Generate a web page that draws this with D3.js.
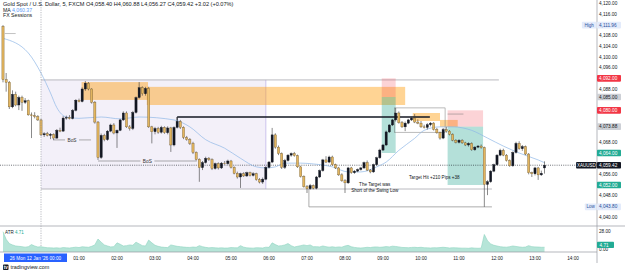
<!DOCTYPE html>
<html>
<head>
<meta charset="utf-8">
<script src="https://cdnjs.cloudflare.com/ajax/libs/d3/7.8.5/d3.min.js"></script>
<style>
body{margin:0;background:#fff;}
svg{display:block;font-family:"Liberation Sans",Arial,sans-serif;}
</style>
</head>
<body>
<div id="canvas"></div>
<script>
// 5 minute bars, first bar Sun 23:00
var firstBar = new Date(2026, 0, 11, 23, 0);

// [open, high, low, close]
var ohlc = [
[4111.5,4111.96,4090.5,4091.5],[4091.5,4094,4087,4090.5],[4090.5,4091,4080.5,4081.3],[4081.3,4087.5,4080.8,4086],
[4086,4087,4081.5,4082],[4082,4085.5,4080.1,4084.8],[4084.8,4085.5,4079.8,4083],[4083,4084.6,4082.4,4083.6],
[4083.6,4084,4078,4078.3],[4078.3,4079.2,4069.6,4078],[4078,4079.3,4077,4077.6],[4077.6,4078.2,4076,4076.4],
[4076.4,4076.8,4070.3,4070.8],[4070.8,4071.8,4070,4071.2],[4071.2,4071.9,4070.2,4070.6],[4070.6,4071.5,4069.2,4071],
[4071,4071.4,4068.9,4069.6],[4069.6,4073,4069.3,4072.5],[4072.5,4073.5,4071.8,4072.2],[4072.2,4077.8,4072,4077.1],
[4077.1,4078,4076.5,4077.3],[4077.3,4078.2,4076.6,4076.9],[4076.9,4080.5,4076.6,4080],[4080,4084.2,4079.6,4083.8],
[4083.8,4084.4,4083,4083.3],[4083.3,4088.6,4083,4088],[4088,4091,4087.3,4090.2],[4090.2,4090.6,4087.5,4088],
[4088,4088.3,4082.5,4083],[4083,4083.5,4075,4075.6],[4075.6,4076,4061.4,4062.3],[4062.3,4071.3,4061.8,4070.6],
[4070.6,4071.2,4068.4,4069],[4069,4072.6,4068.6,4072.2],[4072.2,4075,4071.8,4074.5],[4074.5,4075.2,4071,4071.5],
[4071.5,4072.8,4065.9,4072.5],[4072.5,4076.8,4072.2,4076.4],[4076.4,4079.6,4076,4079],[4079,4079.6,4073.4,4073.8],
[4073.8,4074.5,4072.4,4073.2],[4073.2,4079.8,4072.6,4079.2],[4079.2,4085.2,4078.8,4084.8],[4084.8,4090.6,4084.4,4088.5],
[4088.5,4089,4085.5,4086.2],[4086.2,4088.8,4085.5,4088.2],[4088.2,4088.8,4073.4,4073.8],[4073.8,4074.2,4067.6,4072],
[4072,4073.8,4071,4073.2],[4073.2,4073.8,4071.2,4071.8],[4071.8,4074.2,4071.3,4073.6],[4073.6,4074,4071.2,4071.6],
[4071.6,4074,4071,4073.4],[4073.4,4073.8,4064.4,4067],[4067,4074,4066.5,4073.6],[4073.6,4077.5,4073.2,4075.8],
[4075.8,4076.4,4073,4073.6],[4073.6,4074,4069.2,4069.8],[4069.8,4070.4,4068.6,4069],[4069,4069.6,4067,4067.6],
[4067.6,4068.2,4063.6,4064.2],[4064.2,4064.6,4061.2,4061.6],[4061.6,4062,4053.2,4058.5],[4058.5,4061,4057.6,4060.4],
[4060.4,4062.6,4060,4062],[4062,4062.5,4061,4061.5],[4061.5,4062,4057.6,4058.2],[4058.2,4060.4,4057.8,4060],
[4060,4060.5,4057.8,4058.4],[4058.4,4060.6,4058,4060.2],[4060.2,4061,4059.6,4060],[4060,4061.5,4059.6,4061],
[4061,4061.4,4058.2,4058.6],[4058.6,4059,4056,4056.4],[4056.4,4057,4054.4,4055],[4055,4056.6,4050.9,4056.2],
[4056.2,4056.8,4055,4055.4],[4055.4,4057,4055,4056.6],[4056.6,4057,4055.2,4055.6],[4055.6,4056.8,4055.2,4056.2],
[4056.2,4056.6,4053.6,4054],[4054,4054.6,4052.6,4053.1],[4053.1,4054.8,4052.4,4054.2],[4054.2,4059,4053.8,4058.6],
[4058.6,4061,4058.2,4060.6],[4060.6,4073.4,4060.2,4070.8],[4070.8,4071.4,4065.6,4066.2],[4066.2,4066.8,4063.2,4063.8],
[4063.8,4064.2,4058,4058.6],[4058.6,4061.8,4058,4061.2],[4061.2,4063.6,4060.8,4063.2],[4063.2,4064.2,4062.6,4063.8],
[4063.8,4064.4,4062.6,4063],[4063,4063.4,4058.4,4058.8],[4058.8,4059.2,4054.8,4055.2],[4055.2,4055.6,4051,4051.4],
[4051.4,4052,4049,4050.6],[4050.6,4052.4,4050.2,4051.8],[4051.8,4052.2,4050.4,4050.8],[4050.8,4055.4,4050.4,4055],
[4055,4057.8,4054.6,4057.4],[4057.4,4061.8,4057,4061.4],[4061.4,4062.8,4060.2,4060.6],[4060.6,4063,4060.2,4062.5],
[4062.5,4063,4059.2,4059.6],[4059.6,4060,4058,4058.4],[4058.4,4058.8,4055.4,4055.8],[4055.8,4056.4,4053.2,4053.6],
[4053.6,4054.2,4049,4052.8],[4052.8,4058.8,4052.4,4058.4],[4058.4,4058.8,4056.2,4056.6],[4056.6,4057.6,4056.2,4057.2],
[4057.2,4058.2,4056.8,4057.8],[4057.8,4058.8,4057.4,4058.4],[4058.4,4060.8,4058,4060.4],[4060.4,4061.2,4057.2,4057.6],
[4057.6,4058,4056.4,4056.9],[4056.9,4060,4056.6,4059.6],[4059.6,4062.6,4059.2,4062.2],[4062.2,4065.6,4061.8,4065.1],
[4065.1,4067.4,4064.8,4067],[4067,4072.4,4066.6,4071.9],[4071.9,4074.8,4071.5,4074.5],[4074.5,4076.8,4074.1,4076.4],
[4076.4,4080.9,4075.8,4079],[4079,4079.6,4075,4075.4],[4075.4,4076,4073.4,4073.8],[4073.8,4075.8,4072.2,4075.2],
[4075.2,4076.8,4074.8,4076.4],[4076.4,4077.6,4076,4077.1],[4077.1,4078.6,4075.2,4075.6],[4075.6,4076.6,4074.8,4075.2],
[4075.2,4076,4073.4,4073.8],[4073.8,4074.6,4073.2,4073.6],[4073.6,4075.2,4072.8,4074.6],[4074.6,4075.6,4074,4075.2],
[4075.2,4075.6,4072.4,4072.8],[4072.8,4073.4,4071.2,4071.6],[4071.6,4072,4069,4069.6],[4069.6,4073.4,4069.2,4072.8],
[4072.8,4073.8,4071.6,4072.2],[4072.2,4072.6,4070.6,4071],[4071,4071.4,4068.4,4068.8],[4068.8,4069.2,4067.6,4068],
[4068,4069.2,4067.6,4068.8],[4068.8,4069.2,4067.4,4067.8],[4067.8,4068.2,4066.6,4067],[4067,4068,4066.4,4067.6],
[4067.6,4068,4064.8,4065.2],[4065.2,4066.6,4064.8,4066.2],[4066.2,4067,4065.8,4066.6],[4066.6,4067.2,4065.6,4066],
[4066,4066.4,4043.8,4052.2],[4052.2,4053.8,4048.2,4053.2],[4053.2,4057.6,4052.8,4057.2],[4057.2,4060,4056.8,4059.6],
[4059.6,4063.6,4059.2,4063.2],[4063.2,4065.6,4062.8,4065],[4065,4065.6,4062.8,4063.2],[4063.2,4063.6,4060.8,4061.2],
[4061.2,4061.6,4058.8,4059.2],[4059.2,4064.6,4058.8,4064.2],[4064.2,4068.2,4063.8,4067.6],[4067.6,4068.4,4065.2,4065.6],
[4065.6,4067,4064.8,4066.4],[4066.4,4066.8,4063.2,4063.6],[4063.6,4064,4056,4056.6],[4056.6,4057,4055,4056.2],
[4056.2,4058.8,4055.6,4058.4],[4058.4,4058.8,4053.9,4055.8],[4055.8,4057.4,4055.4,4056.4],[4058.4,4060.88,4056.27,4059.42]
];

// ATR, one value per bar
var atr = [
27,16,10,8,6.5,6,5.5,4.8,5.5,8.5,6.5,5,
5.5,4.6,4,3.8,3.6,3.8,3.4,4.2,3.8,3.6,4.2,4.8,
4.2,5.4,5,4.6,6,8,16.5,12,8,6.5,5.2,5.5,
11,9,6.5,7,8,7.5,12,9.5,7,6.5,15,11,
7.5,6,5,4.5,4.2,8,7,6,5.5,5,4.5,4.4,
5,4.6,7,5.5,4.5,3.8,4.2,3.8,3.6,3.8,3.5,3.6,
4.2,4,3.8,7,4.8,3.8,3.6,3.4,4,3.8,3.6,4.8,
4.5,11,8.5,6.5,7,8,10,7,5,6,7,8,
7,8,5.5,5.5,5.2,6.5,5.5,4.8,5.4,4.6,5.2,4.8,
6.5,7.4,5.4,4.4,3.8,3.6,4,4.6,4.2,5,5.2,4.6,
5,5.6,5.2,6.2,5.8,5.2,4.4,4.2,4,4.4,4.6,4.2,
4.6,4,3.8,3.6,4,3.8,4.2,4.6,4.2,3.6,4,3.8,
3.6,3.4,3.4,3.2,3.8,3.4,3.2,3.4,23,14,9.5,7.5,
6.5,5.5,5,4.8,5.5,6.5,5.8,5.2,4.6,5,7,5.5,
5.2,5,4.6,4.71
];

// MA readings [bar, price]
var maPoints = [[0,4107],[8,4101.5],[12,4094],[15,4086.5],[17,4081],[20,4077.5],[24,4077],[31,4077.5],
[37,4076.8],[43,4077.5],[54,4076.4],[59,4073.8],[64,4069],[70,4065.8],[75,4062],[80,4058.8],[83,4058.4],
[86,4058.8],[89,4060.2],[94,4060.2],[98,4059.9],[104,4058.8],[109,4056.9],[113,4056.9],[118,4058.8],
[121,4060.6],[125,4065],[130,4069.5],[133,4072.5],[138,4073.8],[142,4073.8],[148,4072.5],[153,4069.6],
[158,4066.6],[163,4064],[169,4061.4],[171,4060.37]];

var priceTicks = d3.range(4040, 4121, 4);
var hourTicks = d3.range(1, 15);

// zones [fromBar, toBar, top, bottom]
var orangeZones = [[24.9,45.8,4090.6,4083.9],[45.5,127,4088.8,4082],[129.5,138,4079,4076],[138,143.7,4076.4,4073.8]];
// short positions [fromBar, toBar, stop, entry, target]
var positions = [[119.7,124,4092,4085,4064],[140.5,151.6,4080,4073.88,4052]];

var axisLabels = [
  {p:4111.96, t:'4,111.96', bg:'#e3ebfb', fg:'#2a4f9a', tag:'High'},
  {p:4092, t:'4,092.00', bg:'#f23645', fg:'#fff'},
  {p:4085, t:'4,085.00', bg:'#cdd0d6', fg:'#131722'},
  {p:4080, t:'4,080.00', bg:'#f23645', fg:'#fff'},
  {p:4073.88, t:'4,073.88', bg:'#cdd0d6', fg:'#131722'},
  {p:4064, t:'4,064.00', bg:'#22ab94', fg:'#fff'},
  {p:4059.42, t:'4,059.42', bg:'#131722', fg:'#fff', tag:'XAUUSD', tagDark:true},
  {p:4052, t:'4,052.00', bg:'#22ab94', fg:'#fff'},
  {p:4043.8, t:'4,043.80', bg:'#e3ebfb', fg:'#2a4f9a', tag:'Low'}
];

var width = 625, height = 273;
var paneR = 597, mainB = 226, atrB = 252;

var svg = d3.select('#canvas').append('svg')
    .attr('width', width).attr('height', height);

var barTime = function(i){ return d3.timeMinute.offset(firstBar, 5 * i); };
var x = d3.scaleTime()
    .domain([barTime(0), barTime(171)])
    .range([3, 544.5]);
var xb = function(i){ return x(barTime(i)); };
var y = d3.scaleLinear().domain([4040, 4100]).range([217, 57]);
var ya = d3.scaleLinear().domain([0, 28]).range([250.5, 231]);

svg.append('clipPath').attr('id', 'mainclip')
    .append('rect').attr('width', paneR).attr('height', mainB);
svg.append('clipPath').attr('id', 'atrclip')
    .append('rect').attr('y', mainB).attr('width', paneR).attr('height', atrB - mainB);

var plot = svg.append('g').attr('clip-path', 'url(#mainclip)');

//session box (Asia)
plot.append('rect')
    .attr('x', xb(12)).attr('width', xb(83) - xb(12))
    .attr('y', y(4091.4)).attr('height', y(4050.5) - y(4091.4))
    .style('fill', 'rgba(126,87,194,0.09)');
plot.append('line').attr('x1', xb(83)).attr('x2', xb(83))
    .attr('y1', y(4091.4)).attr('y2', y(4050.5))
    .style('stroke', '#b8aee6').style('stroke-width', 0.7);
plot.append('line').attr('x1', xb(12)).attr('x2', xb(156.6))
    .attr('y1', y(4091.4)).attr('y2', y(4091.4))
    .style('stroke', '#a8a8b0').style('stroke-width', 0.8);
plot.append('line').attr('x1', xb(12)).attr('x2', xb(154.4))
    .attr('y1', y(4050.5)).attr('y2', y(4050.5))
    .style('stroke', '#a8a8b0').style('stroke-width', 0.8);

//orange zones
plot.selectAll('.zone').data(orangeZones).enter().append('rect')
    .attr('x', function(d){ return xb(d[0]); })
    .attr('width', function(d){ return xb(d[1]) - xb(d[0]); })
    .attr('y', function(d){ return y(d[2]); })
    .attr('height', function(d){ return y(d[3]) - y(d[2]); })
    .style('fill', 'rgba(255,152,0,0.42)');

//positions
positions.forEach(function(d){
  var x0 = xb(d[0]), w = xb(d[1]) - xb(d[0]);
  plot.append('rect').attr('x', x0).attr('width', w)
      .attr('y', y(d[2])).attr('height', y(d[3]) - y(d[2]))
      .style('fill', 'rgba(242,54,69,0.22)');
  plot.append('rect').attr('x', x0).attr('width', w)
      .attr('y', y(d[3])).attr('height', y(d[4]) - y(d[3]))
      .style('fill', 'rgba(8,153,129,0.3)');
});

//small outline box and levels
plot.append('rect').attr('x', xb(123.7)).attr('width', xb(139.6) - xb(123.7))
    .attr('y', y(4080.9)).attr('height', y(4071.8) - y(4080.9))
    .style('fill', 'none').style('stroke', '#777').style('stroke-width', 0.5);
plot.append('line').attr('x1', xb(140.5)).attr('x2', xb(145.5))
    .attr('y1', y(4078.6)).attr('y2', y(4078.6))
    .style('stroke', '#777').style('stroke-width', 0.5);

//black level
plot.append('line').attr('x1', xb(55)).attr('x2', xb(134.8))
    .attr('y1', y(4077.5)).attr('y2', y(4077.5))
    .style('stroke', '#131722').style('stroke-width', 1.3);
plot.append('line').attr('x1', xb(55)).attr('x2', xb(55))
    .attr('y1', y(4077.5)).attr('y2', y(4075.5))
    .style('stroke', '#131722').style('stroke-width', 1);

//swing low bracket
plot.append('path')
    .attr('d', 'M' + xb(96.6) + ',' + y(4050.5) + 'V' + y(4043.8) + 'H' + xb(154.4))
    .style('fill', 'none').style('stroke', '#8a8a8a').style('stroke-width', 0.7);

//gap line at open
plot.append('line').attr('x1', xb(0.6)).attr('x2', xb(4))
    .attr('y1', y(4108.8)).attr('y2', y(4108.8))
    .style('stroke', '#999').style('stroke-width', 0.6);

//BoS lines
var bos = [[15.8, 27.8, 4068.9], [30, 61.3, 4061]];
bos.forEach(function(d){
  var xm = (xb(d[0]) + xb(d[1])) / 2;
  plot.append('line').attr('x1', xb(d[0])).attr('x2', xm - 7)
      .attr('y1', y(d[2])).attr('y2', y(d[2]))
      .style('stroke', '#777').style('stroke-width', 0.6);
  plot.append('line').attr('x1', xm + 7).attr('x2', xb(d[1]))
      .attr('y1', y(d[2])).attr('y2', y(d[2]))
      .style('stroke', '#777').style('stroke-width', 0.6);
  plot.append('text').attr('x', xm).attr('y', y(d[2]) + 1.6)
      .attr('text-anchor', 'middle')
      .style('font-size', '4.8px').style('fill', '#333')
      .text('BoS');
});

//price line (dotted)
plot.append('line').attr('x1', 0).attr('x2', paneR)
    .attr('y1', y(4059.42)).attr('y2', y(4059.42))
    .style('stroke', '#131722').style('stroke-width', 0.6)
    .style('stroke-dasharray', '1,1.2');

//MA
plot.append('path').datum(maPoints)
    .attr('d', d3.line().curve(d3.curveMonotoneX)
        .x(function(d){ return xb(d[0]); })
        .y(function(d){ return y(d[1]); }))
    .style('fill', 'none').style('stroke', '#8fb7e6').style('stroke-width', 0.7);

//candles
var bars = plot.selectAll('.bar').data(ohlc).enter().append('g');
bars.append('line')
    .attr('x1', function(d, i){ return xb(i); })
    .attr('x2', function(d, i){ return xb(i); })
    .attr('y1', function(d){ return y(d[1]); })
    .attr('y2', function(d){ return y(d[2]); })
    .style('stroke', '#3a3a3a').style('stroke-width', 0.6);
bars.append('rect')
    .attr('x', function(d, i){ return xb(i) - 1.1; })
    .attr('width', 2.2)
    .attr('y', function(d){ return y(Math.max(d[0], d[3])); })
    .attr('height', function(d){ return Math.max(0.6, Math.abs(y(d[0]) - y(d[3]))); })
    .style('fill', function(d){ return d[3] >= d[0] ? '#131722' : '#e2b55f'; })
    .style('stroke', function(d){ return d[3] >= d[0] ? '#131722' : '#6b5428'; })
    .style('stroke-width', 0.35);

//annotations
var notes = [
  {i:117.5, p:4051.6, t:'The Target was'},
  {i:117.5, p:4049.3, t:'Short of the Swing Low'},
  {i:136.3, p:4054.3, t:'Target Hit +210 Pips +38'}
];
plot.selectAll('.note').data(notes).enter().append('text')
    .attr('x', function(d){ return xb(d.i); })
    .attr('y', function(d){ return y(d.p); })
    .attr('text-anchor', 'middle')
    .style('font-size', '4.6px').style('fill', '#131722')
    .text(function(d){ return d.t; });

//crosshair vertical
svg.append('line').attr('x1', xb(12)).attr('x2', xb(12))
    .attr('y1', 0).attr('y2', atrB)
    .style('stroke', '#8c8f99').style('stroke-width', 0.6)
    .style('stroke-dasharray', '1.2,1.2');

//ATR pane
var atrG = svg.append('g').attr('clip-path', 'url(#atrclip)');
atrG.append('path').datum(atr)
    .attr('d', d3.area()
        .x(function(d, i){ return xb(i); })
        .y0(atrB).y1(function(d){ return ya(d); }))
    .style('fill', '#b6e5d8');
atrG.append('path').datum(atr)
    .attr('d', d3.line()
        .x(function(d, i){ return xb(i); })
        .y(function(d){ return ya(d); }))
    .style('fill', 'none').style('stroke', '#8dd3c0').style('stroke-width', 0.6);

//frame
svg.append('line').attr('x1', 0).attr('x2', width).attr('y1', mainB).attr('y2', mainB)
    .style('stroke', '#9598a1').style('stroke-width', 0.7);
svg.append('line').attr('x1', 0).attr('x2', paneR).attr('y1', atrB).attr('y2', atrB)
    .style('stroke', '#9598a1').style('stroke-width', 0.7);
svg.append('line').attr('x1', paneR).attr('x2', paneR).attr('y1', 0).attr('y2', 263)
    .style('stroke', '#9598a1').style('stroke-width', 0.7);

//price axis
var hidden = axisLabels.map(function(d){ return y(d.p); });
priceTicks.forEach(function(p){
  var py = y(p);
  if (py < 2) return;
  var clash = hidden.some(function(h){ return Math.abs(h - py) < 6; });
  if (clash) return;
  svg.append('text').attr('x', 599).attr('y', py + 1.6)
      .style('font-size', '4.7px').style('fill', '#131722')
      .text(d3.format(',.2f')(p));
});
axisLabels.forEach(function(d){
  var py = y(d.p);
  svg.append('rect').attr('x', paneR).attr('y', py - 3.3).attr('width', 24).attr('height', 6.6)
      .attr('rx', 0.8).style('fill', d.bg);
  svg.append('text').attr('x', 599).attr('y', py + 1.6)
      .style('font-size', '4.7px').style('fill', d.fg).text(d.t);
  if (d.tag) {
    var tw = d.tag.length * 2.9 + 3;
    svg.append('rect').attr('x', paneR - tw - 0.5).attr('y', py - 3.3).attr('width', tw).attr('height', 6.6)
        .attr('rx', 0.8).style('fill', d.tagDark ? '#131722' : '#e3ebfb');
    svg.append('text').attr('x', paneR - tw / 2 - 0.5).attr('y', py + 1.6)
        .attr('text-anchor', 'middle')
        .style('font-size', '4.5px').style('fill', d.tagDark ? '#fff' : '#2a4f9a').text(d.tag);
  }
});

//ATR axis
svg.append('text').attr('x', 599).attr('y', ya(28) + 1.6)
    .style('font-size', '4.7px').style('fill', '#131722').text('28.00');
svg.append('text').attr('x', 599).attr('y', ya(0) + 0.5)
    .style('font-size', '4.7px').style('fill', '#131722').text('0.00');
svg.append('rect').attr('x', paneR).attr('y', ya(4.71) - 5.5).attr('width', 17).attr('height', 6.4)
    .attr('rx', 0.8).style('fill', '#22ab94');
svg.append('text').attr('x', 599.5).attr('y', ya(4.71) - 0.7)
    .style('font-size', '4.7px').style('fill', '#fff').text('4.71');

//time axis
hourTicks.forEach(function(h){
  var t = d3.timeHour.offset(barTime(12), h);
  svg.append('text').attr('x', x(t)).attr('y', 259.5)
      .attr('text-anchor', 'middle')
      .style('font-size', '4.7px').style('fill', '#131722')
      .text(d3.timeFormat('%H:%M')(t));
});
svg.append('rect').attr('x', 4).attr('y', 253.5).attr('width', 63).attr('height', 8.5)
    .style('fill', '#2962ff');
svg.append('text').attr('x', 35.5).attr('y', 259.5).attr('text-anchor', 'middle')
    .style('font-size', '4.7px').style('fill', '#fff')
    .text("26   Mon 12 Jan '26   00:00");

//legend
svg.append('text').attr('x', 3).attr('y', 6)
    .style('font-size', '5.6px').style('fill', '#131722')
    .text('Gold Spot / U.S. Dollar, 5, FXCM  O4,058.40  H4,060.88  L4,056.27  C4,059.42  +3.02 (+0.07%)');
var ma = svg.append('text').attr('x', 3).attr('y', 11.5)
    .style('font-size', '5.2px').style('fill', '#131722');
ma.append('tspan').text('MA  ');
ma.append('tspan').style('fill', '#5b9cf6').text('4,060.37');
svg.append('text').attr('x', 3).attr('y', 16.8)
    .style('font-size', '5.2px').style('fill', '#131722').text('FX Sessions');
var atrLeg = svg.append('text').attr('x', 5).attr('y', 233.5)
    .style('font-size', '4.5px').style('fill', '#131722');
atrLeg.append('tspan').text('ATR  ');
atrLeg.append('tspan').style('fill', '#22ab94').text('4.71');

//footer
svg.append('rect').attr('x', 3).attr('y', 264.5).attr('width', 5.5).attr('height', 5.5)
    .attr('rx', 0.8).style('fill', '#131722');
svg.append('text').attr('x', 5.75).attr('y', 269).attr('text-anchor', 'middle')
    .style('font-size', '4.5px').style('font-weight', 'bold').style('fill', '#fff').text('tv');
svg.append('text').attr('x', 10.5).attr('y', 269.2)
    .style('font-size', '5.4px').style('fill', '#131722').text('tradingview.com');
</script>
</body>
</html>
